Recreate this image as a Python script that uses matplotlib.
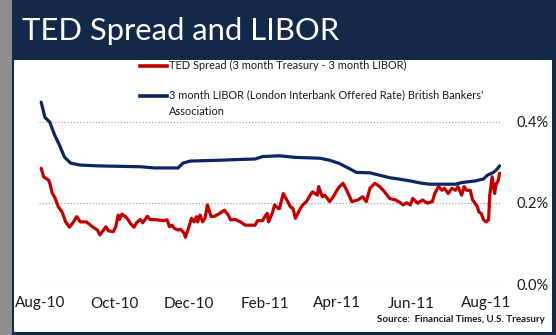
import matplotlib
matplotlib.use("Agg")
import matplotlib.pyplot as plt
import matplotlib.dates as mdates
from matplotlib.patches import Rectangle
import pandas as pd

# ---- data (percent) ----
ted_dates = [
    "2010-08-02", "2010-08-04", "2010-08-08", "2010-08-09", "2010-08-11", "2010-08-13",
    "2010-08-16", "2010-08-19", "2010-08-22", "2010-08-25", "2010-08-28", "2010-08-31",
    "2010-09-03", "2010-09-08", "2010-09-13", "2010-09-17", "2010-09-19", "2010-09-22",
    "2010-09-24", "2010-09-26", "2010-09-30", "2010-10-02", "2010-10-04", "2010-10-05",
    "2010-10-07", "2010-10-10", "2010-10-12", "2010-10-14", "2010-10-17", "2010-10-19",
    "2010-10-22", "2010-10-24", "2010-10-28", "2010-10-30", "2010-11-05", "2010-11-10",
    "2010-11-13", "2010-11-15", "2010-11-17", "2010-11-19", "2010-11-22", "2010-11-24",
    "2010-11-27", "2010-11-28", "2010-11-30", "2010-12-03", "2010-12-05", "2010-12-07",
    "2010-12-08", "2010-12-10", "2010-12-12", "2010-12-14", "2010-12-16", "2010-12-19",
    "2010-12-22", "2010-12-26", "2010-12-30", "2011-01-02", "2011-01-04", "2011-01-08",
    "2011-01-12", "2011-01-16", "2011-01-24", "2011-01-26", "2011-01-30", "2011-02-01",
    "2011-02-03", "2011-02-04", "2011-02-07", "2011-02-09", "2011-02-12", "2011-02-13",
    "2011-02-16", "2011-02-19", "2011-02-22", "2011-02-24", "2011-02-26", "2011-03-02",
    "2011-03-04", "2011-03-07", "2011-03-10", "2011-03-12", "2011-03-16", "2011-03-17",
    "2011-03-20", "2011-03-22", "2011-03-26", "2011-03-29", "2011-04-01", "2011-04-03",
    "2011-04-06", "2011-04-09", "2011-04-12", "2011-04-13", "2011-04-18", "2011-04-22",
    "2011-04-25", "2011-04-28", "2011-05-02", "2011-05-06", "2011-05-10", "2011-05-14",
    "2011-05-19", "2011-05-23", "2011-05-25", "2011-05-28", "2011-05-31", "2011-06-02",
    "2011-06-06", "2011-06-10", "2011-06-14", "2011-06-18", "2011-06-20", "2011-06-23",
    "2011-06-26", "2011-06-28", "2011-07-01", "2011-07-04", "2011-07-07", "2011-07-09",
    "2011-07-12", "2011-07-14", "2011-07-16", "2011-07-19", "2011-07-21", "2011-07-25",
    "2011-07-26", "2011-07-28", "2011-07-30", "2011-08-01", "2011-08-03", "2011-08-04",
    "2011-08-06", "2011-08-08", "2011-08-09", "2011-08-11", "2011-08-12",
]
ted_values = [
    0.285, 0.264, 0.256, 0.249, 0.224, 0.214,
    0.190, 0.178, 0.153, 0.140, 0.151, 0.166,
    0.153, 0.153, 0.141, 0.133, 0.121, 0.133,
    0.141, 0.131, 0.129, 0.141, 0.170, 0.159,
    0.172, 0.166, 0.159, 0.149, 0.140, 0.151,
    0.159, 0.151, 0.167, 0.159, 0.158, 0.156,
    0.158, 0.141, 0.145, 0.137, 0.133, 0.135,
    0.125, 0.115, 0.133, 0.162, 0.153, 0.166,
    0.153, 0.170, 0.153, 0.162, 0.195, 0.166,
    0.167, 0.174, 0.182, 0.170, 0.158, 0.159,
    0.153, 0.145, 0.145, 0.156, 0.156, 0.166,
    0.174, 0.153, 0.174, 0.195, 0.186, 0.186,
    0.223, 0.207, 0.190, 0.186, 0.162, 0.186,
    0.195, 0.203, 0.219, 0.227, 0.219, 0.240,
    0.215, 0.219, 0.203, 0.215, 0.231, 0.240,
    0.248, 0.231, 0.211, 0.203, 0.207, 0.215,
    0.203, 0.236, 0.248, 0.240, 0.227, 0.211,
    0.207, 0.200, 0.195, 0.200, 0.195, 0.211,
    0.199, 0.207, 0.199, 0.203, 0.223, 0.240,
    0.231, 0.236, 0.223, 0.236, 0.231, 0.240,
    0.219, 0.240, 0.231, 0.231, 0.207, 0.190,
    0.178, 0.174, 0.158, 0.153, 0.158, 0.219,
    0.264, 0.223, 0.244, 0.256, 0.273,
]

libor_dates = [
    "2010-08-02", "2010-08-05", "2010-08-09", "2010-08-13", "2010-08-17", "2010-08-21",
    "2010-08-26", "2010-09-03", "2010-09-19", "2010-10-05", "2010-10-22", "2010-11-03",
    "2010-11-22", "2010-11-26", "2010-12-02", "2010-12-26", "2011-01-12", "2011-01-24",
    "2011-01-30", "2011-02-13", "2011-02-26", "2011-03-18", "2011-03-26", "2011-04-03",
    "2011-04-12", "2011-04-17", "2011-04-28", "2011-05-06", "2011-05-14", "2011-05-23",
    "2011-05-31", "2011-06-08", "2011-06-16", "2011-07-07", "2011-07-12", "2011-07-23",
    "2011-07-30", "2011-08-02", "2011-08-07", "2011-08-10", "2011-08-12",
]
libor_values = [
    0.448, 0.411, 0.399, 0.367, 0.342, 0.313,
    0.298, 0.293, 0.291, 0.290, 0.289, 0.286,
    0.286, 0.298, 0.303, 0.305, 0.307, 0.308,
    0.314, 0.316, 0.312, 0.310, 0.305, 0.297,
    0.283, 0.275, 0.274, 0.268, 0.262, 0.258,
    0.254, 0.249, 0.246, 0.246, 0.250, 0.254,
    0.259, 0.268, 0.275, 0.283, 0.291,
]

tick_dates = ["2010-08-01", "2010-10-01", "2010-12-01", "2011-02-01",
              "2011-04-01", "2011-06-01", "2011-08-01"]
tick_labels = ["Aug-10", "Oct-10", "Dec-10", "Feb-11", "Apr-11", "Jun-11", "Aug-11"]
y_ticks = [0.0, 0.2, 0.4]
y_tick_labels = ["0.0%", "0.2%", "0.4%"]

title = "TED Spread and LIBOR"
ted_label = "TED Spread (3 month Treasury - 3 month LIBOR)"
libor_label = "3 month LIBOR (London Interbank Offered Rate) British Bankers'\nAssociation"
source_text = "Source:  Financial Times, U.S. Treasury"

NAVY_BG = "#14284a"
RED = "#c00000"
BLUE = "#0c2461"
FONT = ["Lato", "DejaVu Sans"]

W, H = 556, 335
fig = plt.figure(figsize=(W / 100, H / 100), dpi=100)
fig.patch.set_facecolor(NAVY_BG)


def fx(px):
    return px / W


def fy(py):
    return 1 - py / H


# slide frame: grey strip on the left, white chart panel behind the axes
fig.patches.append(Rectangle((0, 0), fx(12), 1, transform=fig.transFigure,
                             facecolor="#8f8f8f", edgecolor="none", zorder=-10))
fig.patches.append(Rectangle((fx(14), fy(332)), fx(552 - 14), (332 - 60) / H,
                             transform=fig.transFigure, facecolor="white",
                             edgecolor="none", zorder=-10))

fig.text(fx(22), fy(31), title, color="white", fontsize=22.3, family=FONT,
         va="center", ha="left")

# plot area
ax = fig.add_axes([fx(39), fy(284), fx(501 - 39), (284 - 95) / H])
ax.set_facecolor("none")
ax.set_zorder(1)

ted_x = pd.to_datetime(ted_dates)
libor_x = pd.to_datetime(libor_dates)
ax.plot(ted_x, ted_values, color=RED, lw=2.3, solid_joinstyle="round",
        solid_capstyle="round", zorder=3)
ax.plot(libor_x, libor_values, color=BLUE, lw=2.3, solid_joinstyle="round",
        solid_capstyle="round", zorder=4)

base = mdates.date2num(pd.Timestamp("2010-08-01"))
ax.set_xlim(base - 0.8, base + 377.2)
ax.set_ylim(0, 189 / 405.75)

for yv in y_ticks:
    ax.axhline(yv, color="#a6a6a6", lw=0.9, ls=(0, (1, 1.5)), zorder=1)

for s in ax.spines.values():
    s.set_visible(False)
ax.set_xticks(mdates.date2num(pd.to_datetime(tick_dates)))
ax.set_xticklabels(tick_labels, family=FONT, fontsize=11, color="#1a1a1a")
ax.tick_params(axis="x", length=0, pad=9)
ax.set_yticks(y_ticks)
ax.set_yticklabels(y_tick_labels, family=FONT, fontsize=10.5, color="#1a1a1a")
ax.yaxis.tick_right()
ax.tick_params(axis="y", length=0, pad=11)

# legend drawn as line samples with labels
fig.add_artist(plt.Line2D([fx(140), fx(167)], [fy(65.5), fy(65.5)],
                          color=RED, lw=2.6, transform=fig.transFigure))
fig.text(fx(169), fy(65.5), ted_label, fontsize=7.9, family=FONT,
         color="#1a1a1a", va="center", ha="left")
fig.add_artist(plt.Line2D([fx(140), fx(167)], [fy(96.5), fy(96.5)],
                          color=BLUE, lw=2.6, transform=fig.transFigure))
fig.text(fx(169), fy(89.5), libor_label, fontsize=7.9, family=FONT,
         color="#1a1a1a", va="top", ha="left", linespacing=1.6)

fig.text(fx(545), fy(320), source_text, fontsize=7.0, family=FONT,
         fontweight="bold", color="#1a1a1a", va="center", ha="right")

fig.savefig("out.png", dpi=100, facecolor=fig.get_facecolor())
